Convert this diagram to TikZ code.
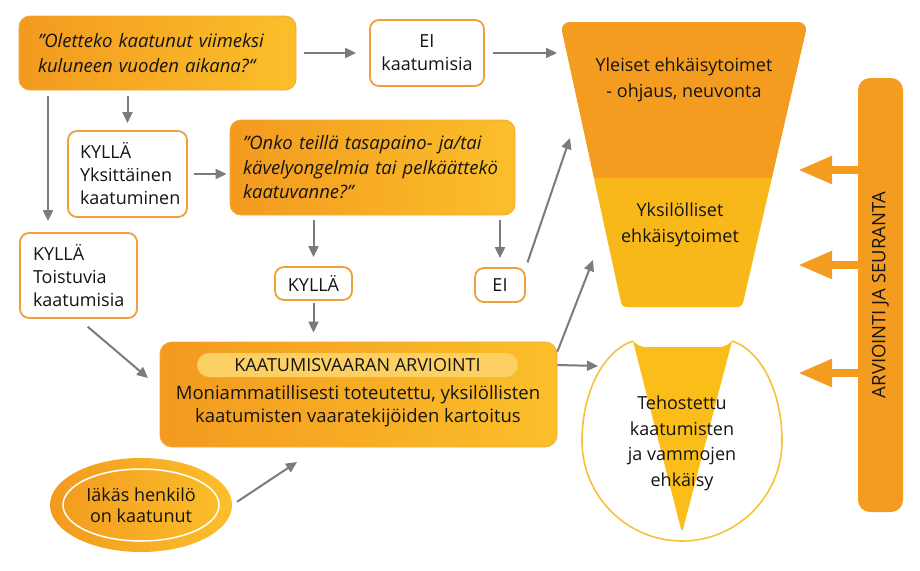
\documentclass[tikz,border=0pt]{standalone}
\usepackage{fontspec}
\setmainfont{Open Sans}
\usetikzlibrary{arrows.meta,shapes.geometric}
\definecolor{oran}{HTML}{F39A1F}
\definecolor{gold}{HTML}{FBBF2A}
\definecolor{qedge}{HTML}{F2A83A}
\definecolor{bord}{HTML}{EFA03C}
\definecolor{grayc}{HTML}{7A7B80}
\definecolor{funA}{HTML}{F49C20}
\definecolor{funB}{HTML}{F9B81A}
\definecolor{circc}{HTML}{F6C23A}
\definecolor{tric}{HTML}{FBBD19}
\definecolor{pillc}{HTML}{FCD062}
\definecolor{ink}{HTML}{141414}
\tikzset{
  arr/.style={draw=grayc, line width=2pt, -{Triangle[length=11pt,width=10pt]}},
  barr/.style={draw=funA, line width=8pt, -{Triangle[length=34pt,width=26pt]}},
  wbox/.style={draw=bord, line width=1.8pt, fill=white, rounded corners=9pt, inner sep=0pt, text=ink,
    font=\fontsize{18}{23}\selectfont},
  qbox/.style={left color=oran, right color=gold, draw=qedge, line width=0.8pt, rounded corners=11pt,
    inner sep=0pt, text=ink, font=\itshape\fontsize{18.5}{24.5}\selectfont},
  ftxt/.style={text=ink, align=center, font=\fontsize{18}{25.5}\selectfont, inner sep=0pt},
}
\begin{document}
\begin{tikzpicture}[x=1pt,y=-1pt]
\useasboundingbox[fill=white] (0,0) rectangle (920,570);

% ---------- funnel ----------
\fill[funB] (593.9,178) -- (771.9,178) [rounded corners=4pt]-- (742,307) -- (622,307) [sharp corners]-- cycle;
\fill[funA] (593.9,178) [rounded corners=10pt]-- (560,22) -- (808,22) [sharp corners]-- (771.9,178) -- cycle;
\node[ftxt] (yl) at (684,80) {Yleiset ehkäisytoimet\\- ohjaus, neuvonta};
\node[ftxt] (yk) at (680,225) {Yksilölliset\\ehkäisytoimet};

% ---------- circle ----------
\node[circle, minimum size=200pt, inner sep=0pt] (circ) at (682,441) {};
\fill[tric] (633,341) [rounded corners=5pt]-- (640,347) -- (725,347) [sharp corners]-- (732,341)
  [rounded corners=4pt]-- (682,533) [sharp corners]-- cycle;
\draw[circc, line width=1.6pt] (633,341) .. controls (605,350) and (582,390) .. (582,441)
  .. controls (582,496) and (627,541) .. (682,541)
  .. controls (737,541) and (782,496) .. (782,441)
  .. controls (782,390) and (760,350) .. (732,341);
\node[ftxt] (ct) at (682,443.5) {Tehostettu\\kaatumisten\\ja vammojen\\ehkäisy};

% ---------- evaluation bar ----------
\node[rotate=90, fill=funA, rounded corners=12pt, minimum width=434pt, minimum height=45pt,
      inner sep=0pt, text=ink, font=\fontsize{18.5}{20}\selectfont] (bar) at (880.5,295) {ARVIOINTI JA SEURANTA};
\coordinate (t1) at (798,170);
\coordinate (t2) at (798,265);
\coordinate (t3) at (798,373);
\draw[barr, shorten <=22pt] (bar.center |- t1) -- (t1);
\draw[barr, shorten <=22pt] (bar.center |- t2) -- (t2);
\draw[barr, shorten <=22pt] (bar.center |- t3) -- (t3);

% ---------- left flow ----------
\node[qbox, minimum width=277pt, minimum height=74pt, text width=239pt, align=left] (q1) at (157.5,53)
  {”Oletteko kaatunut viimeksi\\kuluneen vuoden aikana?“};
\node[wbox, minimum width=114pt, minimum height=66pt, align=center] (ei1) at (427,53) {EI\\kaatumisia};
\node[wbox, minimum width=119pt, minimum height=86pt, text width=95pt, align=left] (kyy) at (127.5,174)
  {KYLLÄ\\Yksittäinen\\kaatuminen};
\node[qbox, minimum width=285pt, minimum height=95pt, text width=259pt, align=left] (q2) at (372.5,167.5)
  {”Onko teillä tasapaino- ja/tai\\kävelyongelmia tai pelkäättekö\\kaatuvanne?”};
\node[wbox, minimum width=117pt, minimum height=85pt, text width=91pt, align=left] (kyt) at (78.5,275.5)
  {KYLLÄ\\Toistuvia\\kaatumisia};
\node[wbox, minimum width=77pt, minimum height=33pt] (ky2) at (313.5,283.5) {KYLLÄ};
\node[wbox, minimum width=50pt, minimum height=34pt] (ei2) at (500,285) {EI};

\node[left color=oran, right color=gold, draw=qedge, line width=0.8pt, rounded corners=12pt,
      minimum width=397pt, minimum height=105pt, inner sep=0pt] (big) at (358.5,394.5) {};
\node[fill=pillc, rounded corners=12pt, minimum width=321pt, minimum height=24pt, inner sep=0pt,
      text=ink, font=\fontsize{18}{18}\selectfont] (pill) at (357.5,365) {KAATUMISVAARAN ARVIOINTI};
\node[ftxt, font=\fontsize{18.5}{22.5}\selectfont] (bt) at (358,406)
  {Moniammatillisesti toteutettu, yksilöllisten\\kaatumisten vaaratekijöiden kartoitus};

\node[ellipse, minimum width=182pt, minimum height=94pt, left color=oran, right color=gold,
      inner sep=0pt, align=center, text=ink, font=\fontsize{18}{21}\selectfont] (ell) at (141,505)
  {Iäkäs henkilö\\on kaatunut};
\draw[white, line width=1.5pt] (ell.center) ellipse [x radius=78pt, y radius=36pt];

% ---------- connectors ----------
\coordinate (fa1) at (557,53);
\coordinate (fa2) at (570,138);
\coordinate (fa3) at (593,260);
\coordinate (ca) at (598,366);
\coordinate (ba) at (148,378);
\coordinate (bb) at (297,462);

\draw[arr, shorten <=8pt, shorten >=13pt] (q1.east) -- (ei1.west);
\draw[arr, shorten <=8pt] (ei1.east) -- (fa1);
\draw[arr, shorten <=6pt, shorten >=11pt] (q1.south -| 48,0) -- (kyt.north -| 48,0);
\draw[arr, shorten <=6pt, shorten >=7pt] (q1.south -| kyy) -- (kyy.north);
\draw[arr, shorten <=6pt, shorten >=3pt] (kyy.east) -- (q2.west |- kyy.east);
\draw[arr, shorten <=5pt, shorten >=9pt] (q2.south -| ky2) -- (ky2.north);
\draw[arr, shorten <=5pt, shorten >=9pt] (q2.south -| ei2) -- (ei2.north);
\draw[arr, shorten <=2pt, shorten >=9pt] (ky2.south) -- (big.north -| ky2);
\draw[arr, shorten <=5pt] (ei2.north east) -- (fa2);
\draw[arr] ([yshift=-10pt]big.north east) -- (fa3);
\draw[arr] (big.east |- pill.east) -- (ca);
\draw[arr, shorten <=12pt] (kyt.south) -- (ba);
\draw[arr, shorten <=6pt] (ell.east) -- (bb);
\end{tikzpicture}
\end{document}
